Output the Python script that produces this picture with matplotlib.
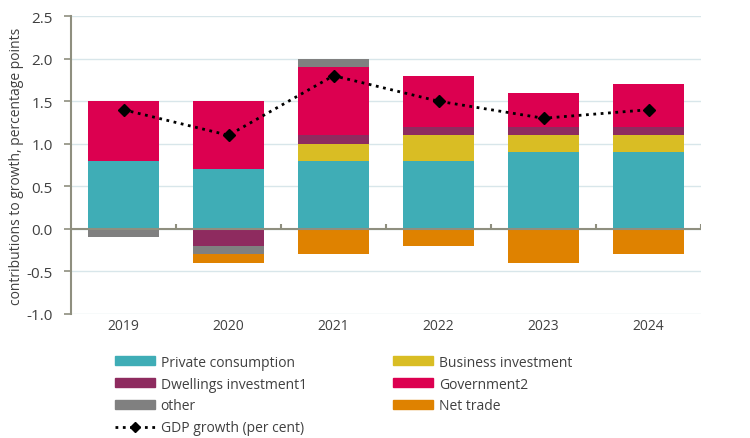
import matplotlib.pyplot as plt
import numpy as np
from matplotlib.lines import Line2D
from matplotlib.patches import Patch

plt.rcParams['font.family'] = ['Open Sans', 'DejaVu Sans']

years = ['2019', '2020', '2021', '2022', '2023', '2024']
private_consumption = [0.8, 0.7, 0.8, 0.8, 0.9, 0.9]
business_investment = [0.0, 0.0, 0.2, 0.3, 0.2, 0.2]
dwellings_investment = [0.0, -0.2, 0.1, 0.1, 0.1, 0.1]
government = [0.7, 0.8, 0.8, 0.6, 0.4, 0.5]
other = [-0.1, -0.1, 0.1, 0.0, 0.0, 0.0]
net_trade = [0.0, -0.1, -0.3, -0.2, -0.4, -0.3]
gdp_growth = [1.4, 1.1, 1.8, 1.5, 1.3, 1.4]

series = [
    ('Private consumption', private_consumption, '#3fadb6'),
    ('Business investment', business_investment, '#d9bd24'),
    ('Dwellings investment1', dwellings_investment, '#8e2b5f'),
    ('Government2', government, '#dc0050'),
    ('other', other, '#808080'),
    ('Net trade', net_trade, '#df8200'),
]

fig = plt.figure(figsize=(7.5, 4.39), dpi=100)
ax = fig.add_axes([0.0947, 0.2825, 0.84, 0.6785])

x = np.arange(len(years))
pos_bottom = np.zeros(len(years))
neg_bottom = np.zeros(len(years))
for name, vals, color in series:
    vals = np.array(vals)
    bottom = np.where(vals >= 0, pos_bottom, neg_bottom)
    ax.bar(x, vals, 0.67, bottom=bottom, color=color, zorder=2)
    pos_bottom += np.where(vals > 0, vals, 0)
    neg_bottom += np.where(vals < 0, vals, 0)

ax.plot(x, gdp_growth, color='black', linestyle=':', linewidth=2,
        marker='D', markersize=6, zorder=4)

axis_color = '#8f8f7f'
ax.set_xlim(-0.5, 5.5)
ax.set_ylim(-1.0, 2.5)
ax.set_yticks(np.arange(-1.0, 2.51, 0.5))
ax.set_yticklabels([f'{v:.1f}' for v in np.arange(-1.0, 2.51, 0.5)])
ax.yaxis.grid(True, color='#d8e6ea', linewidth=1, zorder=0)
ax.set_axisbelow(True)
ax.axhline(0, color=axis_color, linewidth=1.5, zorder=3)
ax.vlines(np.arange(0.5, 6), 0, 0.06, color=axis_color, linewidth=1.5, zorder=3)

for s in ['top', 'right', 'bottom']:
    ax.spines[s].set_visible(False)
ax.spines['left'].set_color(axis_color)
ax.spines['left'].set_linewidth(1.5)
ax.tick_params(axis='y', colors=axis_color, length=5, width=1.2, pad=8,
               labelcolor='#404040', labelsize=11)
ax.set_xticks(x)
ax.set_xticklabels(years)
ax.tick_params(axis='x', length=0, pad=3, labelcolor='#404040', labelsize=10)
ax.set_ylabel('contributions to growth, percentage points', fontsize=10,
              color='#404040', labelpad=2)

handles = {name: Patch(color=color) for name, vals, color in series}
gdp_handle = Line2D([], [], color='black', linestyle=':', linewidth=2,
                    marker='D', markersize=5)
order = ['Private consumption', 'Dwellings investment1', 'other', None,
         'Business investment', 'Government2', 'Net trade']
hs, ls = [], []
for n in order:
    if n is None:
        hs.append(gdp_handle)
        ls.append('GDP growth (per cent)')
    else:
        hs.append(handles[n])
        ls.append(n)
fig.legend(hs, ls, ncol=2, loc='upper left', bbox_to_anchor=(0.153, 0.19),
           frameon=False, fontsize=10, handlelength=2.9, handleheight=0.6,
           columnspacing=6.2, labelspacing=0.5, handletextpad=0.4,
           labelcolor='#404040', borderaxespad=0, borderpad=0)

fig.savefig('out.png', dpi=100)
